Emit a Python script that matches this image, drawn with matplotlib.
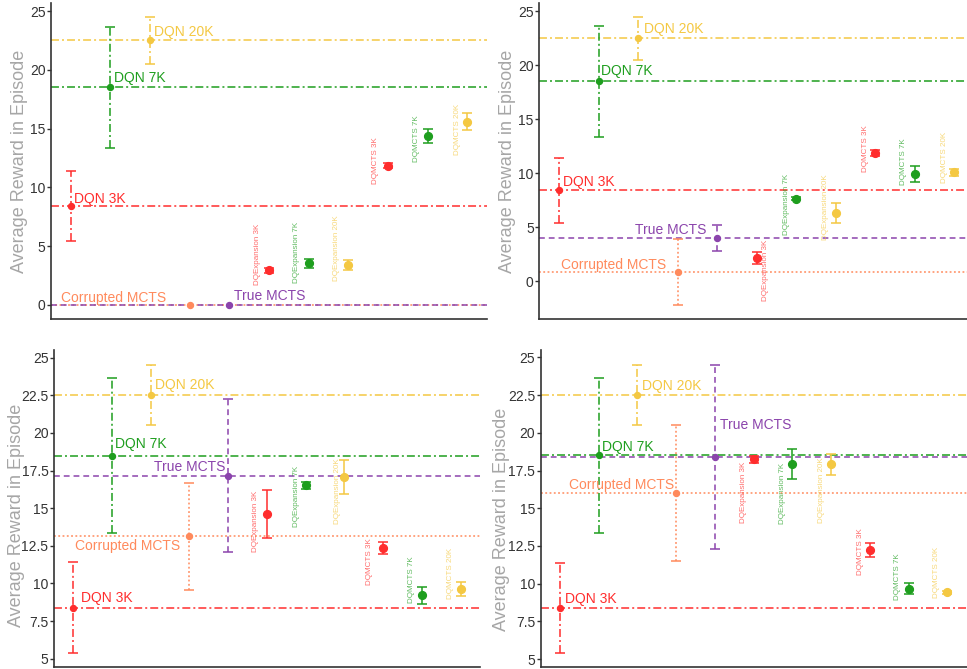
import matplotlib
matplotlib.use("Agg")
import matplotlib.pyplot as plt

plt.rcParams["font.family"] = ["Liberation Sans", "DejaVu Sans"]

# ---- data -------------------------------------------------------------
methods = ["DQN 3K", "DQN 7K", "DQN 20K", "Corrupted MCTS", "True MCTS",
           "DQExpansion 3K", "DQExpansion 7K", "DQExpansion 20K",
           "DQMCTS 3K", "DQMCTS 7K", "DQMCTS 20K"]

means_a = [8.4, 18.5, 22.5, 0.0, 0.0, 2.95, 3.55, 3.4, 11.85, 14.35, 15.6]
errs_a = [3.0, 5.15, 2.0, 0.0, 0.0, 0.2, 0.4, 0.45, 0.2, 0.6, 0.75]

means_b = [8.4, 18.5, 22.5, 0.86, 3.95, 2.16, 7.62, 6.32, 11.85, 9.9, 10.06]
errs_b = [3.0, 5.15, 2.0, 3.05, 1.2, 0.55, 0.15, 0.9, 0.3, 0.75, 0.3]

means_c = [8.4, 18.5, 22.5, 13.13, 17.16, 14.59, 16.54, 17.07, 12.33, 9.21, 9.65]
errs_c = [3.0, 5.15, 2.0, 3.56, 5.1, 1.6, 0.23, 1.12, 0.4, 0.55, 0.47]

means_d = [8.4, 18.5, 22.5, 16.0, 18.4, 18.24, 17.91, 17.91, 12.23, 9.66, 9.42]
errs_d = [3.0, 5.15, 2.0, 4.53, 6.1, 0.25, 1.0, 0.7, 0.45, 0.36, 0.12]

# ---- styling ----------------------------------------------------------
RED, GREEN, YELLOW = "#ff2d2d", "#1e9e1e", "#f4c842"
CORAL, PURPLE = "#ff8a5c", "#8b44ac"
colors = [RED, GREEN, YELLOW, CORAL, PURPLE,
          RED, GREEN, YELLOW, RED, GREEN, YELLOW]

DASHDOT = (0, (5.2, 2.0, 1.3, 2.0))
DASHED = (0, (3.8, 2.6))
DOTTED = (0, (1.2, 1.6))
styles = [DASHDOT, DASHDOT, DASHDOT, DOTTED, DASHED,
          "solid", "solid", "solid", "solid", "solid", "solid"]

# (x, y) for the horizontal labels; alignment per label
big_align = ["left", "left", "left", "right", None]
big_pos = {
    "a": [(1.08, 9.0), (2.08, 19.3), (3.09, 23.2), (3.41, 0.62), (5.13, 0.79)],
    "b": [(1.10, 9.14), (2.07, 19.44), (3.14, 23.4), (3.70, 1.48), (4.74, 4.72)],
    "c": [(1.21, 9.01), (2.07, 19.24), (3.12, 23.18), (3.77, 12.49), (4.92, 17.74)],
    "d": [(1.14, 9.0), (2.08, 19.08), (3.13, 23.1), (3.95, 16.54), (5.13, 20.51)],
}
true_align = {"a": "left", "b": "right", "c": "right", "d": "left"}

# (x centre, y bottom) for the rotated labels
small_pos = {
    "a": [(5.72, 1.7), (6.69, 1.9), (7.70, 2.07), (8.69, 10.3), (9.72, 12.16), (10.75, 12.76)],
    "b": [(6.22, -1.82), (6.76, 4.26), (7.75, 3.8), (8.76, 10.12), (9.71, 8.89), (10.76, 9.05)],
    "c": [(5.71, 12.11), (6.77, 13.77), (7.82, 13.93), (8.65, 9.9), (9.74, 8.72), (10.73, 8.94)],
    "d": [(5.75, 14.04), (6.74, 13.93), (7.76, 14.04), (8.75, 10.57), (9.72, 8.91), (10.71, 9.02)],
}

panels = {
    "a": dict(means=means_a, errs=errs_a, rect=[0.0527, 0.5232, 0.4509, 0.4723],
              ylim=(-1.19, 25.68), ticks=[0, 5, 10, 15, 20, 25], lab=(-0.053, 0.5)),
    "b": dict(means=means_b, errs=errs_b, rect=[0.5577, 0.5227, 0.4493, 0.4723],
              ylim=(-3.55, 25.74), ticks=[0, 5, 10, 15, 20, 25], lab=(-0.054, 0.5)),
    "c": dict(means=means_c, errs=errs_c, rect=[0.0558, 0.0025, 0.4405, 0.4743],
              ylim=(4.43, 25.51), ticks=[5, 7.5, 10, 12.5, 15, 17.5, 20, 22.5, 25],
              lab=(-0.068, 0.48)),
    "d": dict(means=means_d, errs=errs_d, rect=[0.5591, 0.0025, 0.4405, 0.4743],
              ylim=(4.45, 25.49), ticks=[5, 7.5, 10, 12.5, 15, 17.5, 20, 22.5, 25],
              lab=(-0.073, 0.465)),
}

fig = plt.figure(figsize=(9.67, 6.69), dpi=100)

for key, p in panels.items():
    ax = fig.add_axes(p["rect"])
    means, errs = p["means"], p["errs"]
    xs = list(range(1, len(methods) + 1))

    # reference lines for the baselines
    for i in [3, 4, 0, 1, 2]:
        ax.axhline(means[i], color=colors[i], lw=1.1, ls=styles[i], zorder=1)

    for i, (x, m, e) in enumerate(zip(xs, means, errs)):
        ms = 4.3 if i < 5 else 5.6
        if e > 0:
            eb = ax.errorbar(x, m, yerr=e, fmt="o", color=colors[i], ms=ms,
                             capsize=3.6, capthick=1.1, elinewidth=1.1, zorder=3)
            eb[2][0].set_linestyle(styles[i])
        else:
            ax.plot(x, m, "o", color=colors[i], ms=ms, zorder=3)

    # horizontal labels for baselines
    for i in range(5):
        tx, ty = big_pos[key][i]
        ha = big_align[i] if big_align[i] else true_align[key]
        ax.text(tx, ty, methods[i], color=colors[i], fontsize=10,
                ha=ha, va="center", zorder=4)

    # rotated labels for the hybrid methods
    for j, i in enumerate(range(5, 11)):
        tx, ty = small_pos[key][j]
        ax.text(tx, ty, methods[i], color=colors[i], fontsize=5.8, alpha=0.7,
                rotation=90, ha="center", va="bottom", zorder=4)

    ax.set_xlim(0.5, 11.5)
    ax.set_ylim(*p["ylim"])
    ax.set_yticks(p["ticks"])
    ax.set_yticklabels([f"{t:g}" for t in p["ticks"]])
    ax.set_xticks([])
    for s in ["top", "right"]:
        ax.spines[s].set_visible(False)
    for s in ["left", "bottom"]:
        ax.spines[s].set_color("#333333")
        ax.spines[s].set_linewidth(1.2)
    ax.tick_params(axis="y", length=3, width=1, color="#333333",
                   labelcolor="#333333", labelsize=10, pad=1)
    ax.set_ylabel("Average Reward in Episode", fontsize=13, color="#a6a6a6")
    ax.yaxis.set_label_coords(*p["lab"])

fig.savefig("out.png", dpi=100)
